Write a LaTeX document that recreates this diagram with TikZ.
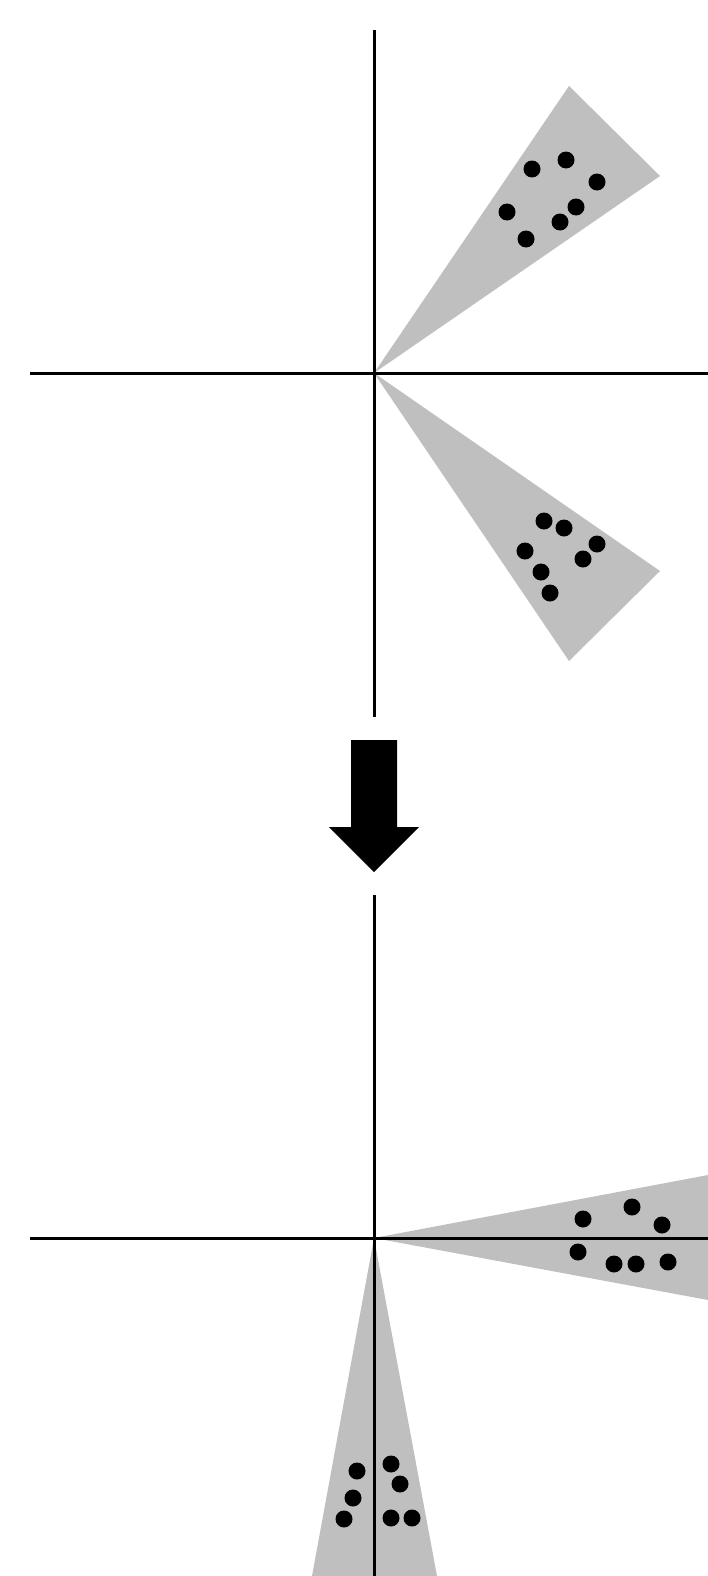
\documentclass[tikz,border=0pt]{standalone}
\begin{document}
\begin{tikzpicture}[x=1pt,y=-1pt,
  wedge/.style={fill=black!25,draw=none},
  axis/.style={line width=3pt,black},
  dot/.style={fill=black}]
\useasboundingbox (0,0) rectangle (708,1576);
\fill[white] (0,0) rectangle (708,1576);
% top panel
\coordinate (O1) at (374,373);
\fill[wedge] (O1) -- (569,86) -- (660,176) -- cycle;
\fill[wedge] (O1) -- (569,661) -- (660,571) -- cycle;
\draw[axis] (374,30) -- (374,717);
\draw[axis] (30,373) -- (708,373);
\foreach \p in {(532,169),(566,160),(597,182),(507,212),(576,207),(560,222),(526,239),
                (544,521),(564,528),(597,544),(525,551),(583,559),(541,572),(550,593)}
  \fill[dot] \p circle (8.5);
% arrow
\fill[black] (351,740) -- (397,740) -- (397,827) -- (419,827) -- (374,872) -- (329,827) -- (351,827) -- cycle;
% bottom panel
\coordinate (O2) at (374,1238);
\fill[wedge] (O2) -- (708,1175) -- (708,1300) -- cycle;
\fill[wedge] (O2) -- (312,1576) -- (437,1576) -- cycle;
\draw[axis] (374,895) -- (374,1576);
\draw[axis] (30,1238) -- (708,1238);
\foreach \p in {(583,1219),(632,1207),(662,1225),(578,1252),(614,1264),(636,1264),(668,1262),
                (357,1471),(353,1498),(344,1519),(391,1464),(400,1484),(391,1518),(412,1518)}
  \fill[dot] \p circle (8.5);
\end{tikzpicture}
\end{document}
